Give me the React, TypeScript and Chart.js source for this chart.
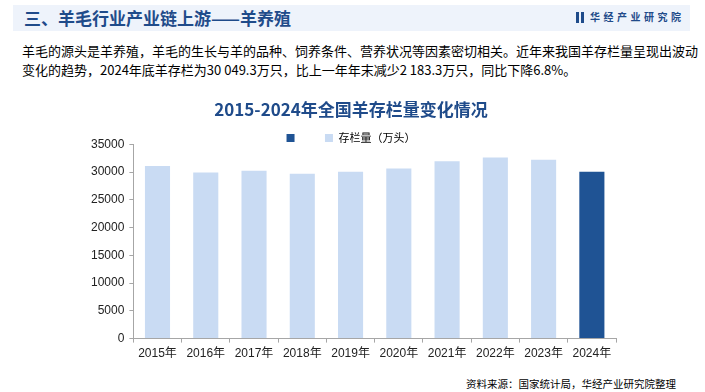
import React, { useEffect, useRef } from "react";
import { Chart, registerables } from "chart.js";

Chart.register(...registerables);

const years = ["2015年", "2016年", "2017年", "2018年", "2019年", "2020年", "2021年", "2022年", "2023年", "2024年"];
const stock = [31099.7, 29930.5, 30231.7, 29713.5, 30072.1, 30654.8, 31969.3, 32627.2, 32232.6, 30049.3];
const highlightYear = "2024年";
const seriesLabel = "存栏量（万头）";
const highlightLabel = "\u3000 ";
const yMax = 35000;
const yStep = 5000;

const chartTitle = "2015-2024年全国羊存栏量变化情况";
const headerTitle = "三、羊毛行业产业链上游——羊养殖";
const logoText = "华经产业研究院";
const paraLine1 = "羊毛的源头是羊养殖，羊毛的生长与羊的品种、饲养条件、营养状况等因素密切相关。近年来我国羊存栏量呈现出波动";
const paraLine2 = "变化的趋势，2024年底羊存栏为30 049.3万只，比上一年年末减少2 183.3万只，同比下降6.8%。";
const sourceText = "资料来源：国家统计局，华经产业研究院整理";

const LIGHT = "#c9dbf3";
const DARK = "#1f5394";
const NAVY = "#1f4b8a";
const AXIS = "#a6a6a6";
const CJK = "'Noto Sans CJK SC', 'Noto Sans', sans-serif";
const LATIN = "'Liberation Sans', 'Noto Sans CJK SC', sans-serif";

function BarChart() {
  const ref = useRef<HTMLCanvasElement | null>(null);
  useEffect(() => {
    if (!ref.current) return;
    const colors = years.map((y) => (y === highlightYear ? DARK : LIGHT));
    const chart = new Chart(ref.current, {
      type: "bar",
      data: {
        labels: years,
        datasets: [
          {
            label: seriesLabel,
            data: stock,
            backgroundColor: colors,
            borderWidth: 0,
            barPercentage: 0.52,
            categoryPercentage: 1,
          },
        ],
      },
      options: {
        responsive: false,
        animation: false,
        layout: { padding: { left: 86, right: 89, top: 0, bottom: 4 } },
        plugins: {
          tooltip: { enabled: false },
          title: {
            display: true,
            text: chartTitle,
            color: NAVY,
            font: { family: CJK, size: 17, weight: "bold" },
            padding: { top: 5, bottom: 4 },
          },
          legend: {
            display: true,
            position: "top",
            maxHeight: 21,
            labels: {
              boxWidth: 8,
              boxHeight: 8,
              padding: 9,
              color: "#222",
              font: { family: CJK, size: 11 },
              generateLabels: () => [
                { text: highlightLabel + " ", fillStyle: DARK, strokeStyle: DARK, lineWidth: 0, hidden: false, datasetIndex: 0 },
                { text: seriesLabel, fillStyle: LIGHT, strokeStyle: LIGHT, lineWidth: 0, hidden: false, datasetIndex: 0 },
              ],
            },
          },
        },
        scales: {
          x: {
            grid: { drawOnChartArea: false, drawTicks: true, tickLength: 4, color: AXIS, offset: true },
            border: { color: AXIS, width: 1 },
            ticks: { color: "#222", font: { family: LATIN, size: 12 }, padding: 4, maxRotation: 0 },
          },
          y: {
            min: 0,
            max: yMax,
            grid: { drawOnChartArea: false, drawTicks: true, tickLength: 4, color: AXIS },
            border: { color: AXIS, width: 1 },
            ticks: {
              stepSize: yStep,
              color: "#222",
              font: { family: LATIN, size: 12 },
              padding: 5,
              callback: (v: any) => String(v),
            },
          },
        },
      },
    });
    return () => chart.destroy();
  }, []);
  return <canvas ref={ref} width={705} height={275} style={{ position: "absolute", left: 0, top: 94, width: 705, height: 275 }} />;
}

export default function App() {
  return (
    <div style={{ position: "fixed", left: 0, top: 0, width: 705, height: 392, background: "#fff", overflow: "hidden", fontFamily: CJK }}>
      <div style={{ position: "absolute", left: 13, top: 5, width: 677, height: 26, background: "#eef3fb" }} />
      <div style={{ position: "absolute", left: 24, top: 5, height: 26, lineHeight: "26px", fontSize: 17, fontWeight: "bold", color: NAVY, whiteSpace: "nowrap" }}>
        {headerTitle}
      </div>
      <div style={{ position: "absolute", left: 576, top: 12, width: 3, height: 11, background: NAVY }} />
      <div style={{ position: "absolute", left: 581, top: 12, width: 3, height: 11, background: NAVY }} />
      <div style={{ position: "absolute", left: 590, top: 9, height: 16, lineHeight: "16px", fontSize: 10, fontWeight: "bold", color: NAVY, letterSpacing: 3.5, whiteSpace: "nowrap" }}>
        {logoText}
      </div>
      <div style={{ position: "absolute", left: 22, top: 41, fontSize: 13, lineHeight: "19px", color: "#000", whiteSpace: "nowrap" }}>
        {paraLine1}
        <br />
        {paraLine2}
      </div>
      <BarChart />
      <div style={{ position: "absolute", right: 29, top: 376, fontSize: 10.5, lineHeight: "16px", color: "#000", whiteSpace: "nowrap" }}>
        {sourceText}
      </div>
    </div>
  );
}
